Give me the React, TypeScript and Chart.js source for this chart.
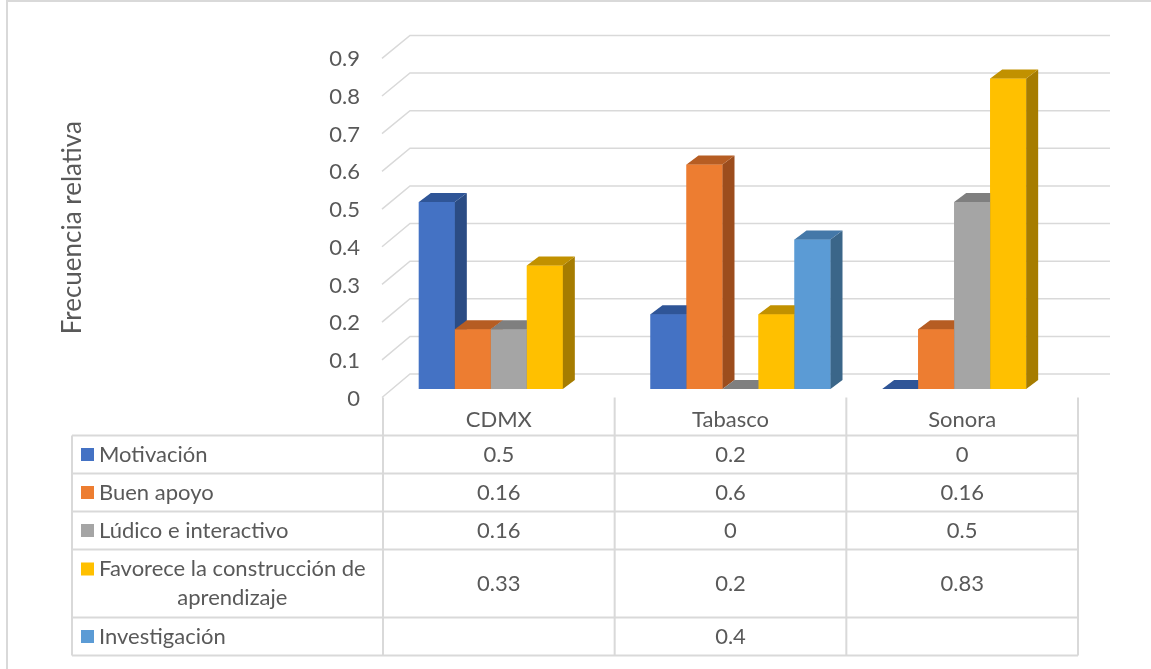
import React, { useEffect, useRef } from "react";
import { Chart, registerables } from "chart.js";

Chart.register(...registerables);

// ---- data ----
const categories = ["CDMX", "Tabasco", "Sonora"];
const seriesNames = [
  "Motivación",
  " Buen apoyo",
  "Lúdico e interactivo",
  "Favorece la construcción de aprendizaje",
  "Investigación",
];
const motivacion: (number | null)[] = [0.5, 0.2, 0];
const buenApoyo: (number | null)[] = [0.16, 0.6, 0.16];
const ludico: (number | null)[] = [0.16, 0, 0.5];
const favorece: (number | null)[] = [0.33, 0.2, 0.83];
const investigacion: (number | null)[] = [null, 0.4, null];
const yTicks = [0, 0.1, 0.2, 0.3, 0.4, 0.5, 0.6, 0.7, 0.8, 0.9];
const yTitle = "Frecuencia relativa";

// ---- style ----
const FONT = "Lato, 'Open Sans', sans-serif";
const TEXT = "#595959";
const GRID = "#d9d9d9";
const faces = [
  { front: "#4472C4", top: "#2F5597", side: "#2B4C84" },
  { front: "#ED7D31", top: "#B65D23", side: "#9C4D1D" },
  { front: "#A5A5A5", top: "#7F7F7F", side: "#6B6B6B" },
  { front: "#FFC000", top: "#C19100", side: "#A67C00" },
  { front: "#5B9BD5", top: "#4478A8", side: "#3B6689" },
];
const seriesValues = [motivacion, buenApoyo, ludico, favorece, investigacion];

// 3D projection offsets (pixels) relative to the bar front plane
const BAR_DX = 12;
const BAR_DY = -9;
const FRONT_DX = -11;
const BACK_DX = 17;
const FRONT_DY = [8.5, 5.9]; // at min / max value
const BACK_DY = [-15, -17];
const TABLE_SHIFT = -10;

const lerp = (a: number, b: number, t: number) => a + (b - a) * t;

function wrap(ctx: CanvasRenderingContext2D, text: string, maxW: number): string[] {
  const words = text.split(" ");
  const lines: string[] = [];
  let cur = "";
  for (const w of words) {
    const test = cur ? cur + " " + w : w;
    if (ctx.measureText(test).width > maxW && cur) {
      lines.push(cur);
      cur = w;
    } else cur = test;
  }
  if (cur) lines.push(cur);
  return lines;
}

const plugin3d = {
  id: "bars3d",
  beforeDatasetsDraw(chart: any) {
    const { ctx, chartArea, scales } = chart;
    const y = scales.y;
    const maxV = yTicks[yTicks.length - 1];
    ctx.save();
    ctx.strokeStyle = GRID;
    ctx.lineWidth = 1.5;
    for (const v of yTicks) {
      const t = v / maxV;
      const yp = y.getPixelForValue(v);
      const yf = yp + lerp(FRONT_DY[0], FRONT_DY[1], t);
      const yb = yp + lerp(BACK_DY[0], BACK_DY[1], t);
      ctx.beginPath();
      ctx.moveTo(chartArea.left + FRONT_DX, yf);
      ctx.lineTo(chartArea.left + BACK_DX, yb);
      ctx.lineTo(chartArea.right + 22, yb);
      ctx.stroke();
      // tick label on the front plane
      ctx.fillStyle = TEXT;
      ctx.font = `22px ${FONT}`;
      ctx.textAlign = "right";
      ctx.textBaseline = "middle";
      ctx.fillText(String(v), chartArea.left - 33, yf + 1);
    }
    ctx.restore();
  },
  afterDatasetsDraw(chart: any) {
    const { ctx } = chart;
    ctx.save();
    for (let c = 0; c < categories.length; c++) {
      for (let d = 0; d < seriesValues.length; d++) {
        const val = seriesValues[d][c];
        if (val === null || val === undefined) continue;
        const el = chart.getDatasetMeta(d).data[c] as any;
        const { x, y, base, width } = el.getProps(["x", "y", "base", "width"], true);
        const l = x - width / 2;
        const r = x + width / 2;
        const f = faces[d];
        // front
        ctx.fillStyle = f.front;
        ctx.fillRect(l, y, width, base - y);
        // side
        ctx.fillStyle = f.side;
        ctx.beginPath();
        ctx.moveTo(r, y);
        ctx.lineTo(r + BAR_DX, y + BAR_DY);
        ctx.lineTo(r + BAR_DX, base + BAR_DY);
        ctx.lineTo(r, base);
        ctx.closePath();
        ctx.fill();
        // top
        ctx.fillStyle = f.top;
        ctx.beginPath();
        ctx.moveTo(l, y);
        ctx.lineTo(l + BAR_DX, y + BAR_DY);
        ctx.lineTo(r + BAR_DX, y + BAR_DY);
        ctx.lineTo(r, y);
        ctx.closePath();
        ctx.fill();
      }
    }
    ctx.restore();
  },
  afterDraw(chart: any) {
    const { ctx, chartArea, scales, width: cw, height: chh } = chart;
    const y = scales.y;
    const catW = chartArea.width / categories.length;
    const colX = categories.map((_, k) => chartArea.left + TABLE_SHIFT + k * catW);
    colX.push(chartArea.left + TABLE_SHIFT + categories.length * catW);
    const tableTop = y.getPixelForValue(0) + FRONT_DY[0];
    const headerBottom = tableTop + 38;
    const labelLeft = 72;
    const rowH = 38;
    const lineH = 29;

    ctx.save();
    // outer frame (top and left edges)
    ctx.strokeStyle = GRID;
    ctx.lineWidth = 2;
    ctx.beginPath();
    ctx.moveTo(7, chh);
    ctx.lineTo(7, 1);
    ctx.lineTo(cw, 1);
    ctx.stroke();

    // axis title
    ctx.fillStyle = TEXT;
    ctx.font = `26px ${FONT}`;
    ctx.textAlign = "center";
    ctx.textBaseline = "middle";
    ctx.save();
    ctx.translate(73, (chartArea.top + chartArea.bottom) / 2 + 7);
    ctx.rotate(-Math.PI / 2);
    ctx.fillText(yTitle, 0, 0);
    ctx.restore();

    // header row with category names
    ctx.font = `22px ${FONT}`;
    categories.forEach((cat, k) => {
      ctx.fillText(cat, (colX[k] + colX[k + 1]) / 2, (tableTop + headerBottom) / 2 + 3);
    });

    // series rows
    const textLeft = 99;
    const maxTextW = colX[0] - textLeft - 8;
    let rowTop = headerBottom;
    const hLines = [headerBottom];
    seriesNames.forEach((name, d) => {
      const lines = wrap(ctx, name, maxTextW);
      const h = lines.length > 1 ? rowH + lineH * (lines.length - 1) + 1 : rowH;
      const firstY = rowTop + h / 2 - ((lines.length - 1) * lineH) / 2;
      // legend key
      ctx.fillStyle = faces[d].front;
      ctx.fillRect(81, firstY - 6.5, 13, 13);
      ctx.fillStyle = TEXT;
      ctx.textAlign = "left";
      ctx.fillText(lines[0], textLeft, firstY);
      const firstW = ctx.measureText(lines[0]).width;
      ctx.textAlign = "center";
      for (let i = 1; i < lines.length; i++) {
        ctx.fillText(lines[i], textLeft + firstW / 2, firstY + i * lineH);
      }
      // values
      categories.forEach((_, k) => {
        const v = seriesValues[d][k];
        if (v === null || v === undefined) return;
        ctx.fillText(String(v), (colX[k] + colX[k + 1]) / 2, rowTop + h / 2);
      });
      rowTop += h;
      hLines.push(rowTop);
    });

    // grid lines of the table
    ctx.strokeStyle = GRID;
    ctx.lineWidth = 2;
    ctx.beginPath();
    for (const hy of hLines) {
      ctx.moveTo(labelLeft, hy);
      ctx.lineTo(colX[colX.length - 1], hy);
    }
    ctx.moveTo(labelLeft, headerBottom);
    ctx.lineTo(labelLeft, rowTop);
    for (const cx of colX) {
      ctx.moveTo(cx, tableTop);
      ctx.lineTo(cx, rowTop);
    }
    ctx.stroke();
    ctx.restore();
  },
};

export default function App() {
  const canvasRef = useRef<HTMLCanvasElement | null>(null);

  useEffect(() => {
    const canvas = canvasRef.current;
    if (!canvas) return;
    const chart = new Chart(canvas, {
      type: "bar",
      data: {
        labels: categories,
        datasets: seriesNames.map((name, d) => ({
          label: name,
          data: seriesValues[d],
          backgroundColor: faces[d].front,
          borderWidth: 0,
          barPercentage: 1,
          categoryPercentage: 0.777,
        })),
      },
      options: {
        responsive: false,
        animation: false,
        devicePixelRatio: 1,
        layout: { padding: { left: 393, right: 63, top: 52.4, bottom: 280 } },
        plugins: {
          legend: { display: false },
          tooltip: { enabled: false },
          title: { display: false },
        },
        events: [],
        scales: {
          x: { display: false, offset: true },
          y: { display: false, min: 0, max: 0.9 },
        },
      },
      plugins: [plugin3d],
    });
    return () => chart.destroy();
  }, []);

  return (
    <div style={{ position: "fixed", left: 0, top: 0, width: 1151, height: 669, background: "#fff" }}>
      <canvas ref={canvasRef} width={1151} height={669} style={{ display: "block" }} />
    </div>
  );
}
